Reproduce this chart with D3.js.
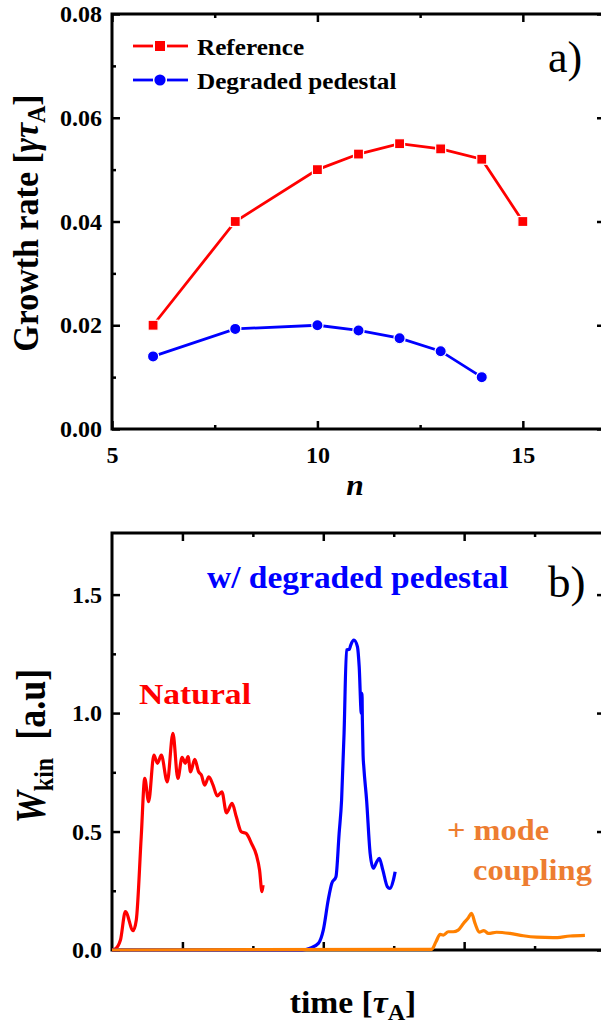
<!DOCTYPE html>
<meta charset="utf-8" />
<script src="https://d3js.org/d3.v7.min.js"></script>
<style>
  body { margin: 0; background: #fff; }
</style>
<svg id="chart" width="601" height="1029"></svg>
<script>
  // panel a) growth rate vs toroidal mode number
  var nRef = [6, 8, 10, 11, 12, 13, 14, 15];
  var rateRef = [0.020, 0.040, 0.050, 0.053, 0.055, 0.054, 0.052, 0.040];
  var nDeg = [6, 8, 10, 11, 12, 13, 14];
  var rateDeg = [0.014, 0.0193, 0.020, 0.019, 0.0175, 0.015, 0.010];
  var nTicks = [5, 10, 15];
  var rateTicks = [0, 0.02, 0.04, 0.06, 0.08];

  // panel b) kinetic energy vs time (time axis has no labels)
  var natT = [0, 4, 12, 19, 30, 34.5, 41.5, 46.5, 52, 59.5, 64.5, 70, 78.5, 86.5, 93.5, 99.5, 104, 108, 111.5,
    117.5, 123, 127, 131.5, 137.5, 143.5, 149.5, 156, 162.5, 170.5, 176.5, 183.5, 190.5, 198, 205, 209.5, 213, 214.5];
  var natW = [0, 0.003, 0.042, 0.162, 0.082, 0.127, 0.478, 0.724, 0.626, 0.823, 0.788, 0.823, 0.71, 0.914, 0.724,
    0.813, 0.788, 0.816, 0.752, 0.805, 0.752, 0.738, 0.696, 0.731, 0.696, 0.65, 0.668, 0.579, 0.619, 0.562, 0.499,
    0.492, 0.45, 0.401, 0.338, 0.246, 0.274];
  var degT = [0, 270, 281, 293, 300, 307, 312, 318, 322.5, 326, 329.5, 333, 337, 339, 343.5, 348.5, 351, 354, 355,
    355.5, 356.5, 357.5, 361.5, 366.5, 371, 376, 379.5, 384.5, 391, 394.5, 399.5, 402];
  var degW = [0, 0, 0.007, 0.028, 0.084, 0.211, 0.281, 0.309, 0.492, 0.633, 0.914, 1.266, 1.269, 1.287, 1.308, 1.28,
    1.195, 0.999, 1.083, 0.97, 0.823, 0.774, 0.633, 0.408, 0.345, 0.373, 0.387, 0.338, 0.267, 0.26, 0.295, 0.33];
  var cplT = [0, 454, 460, 466, 470.5, 477.5, 484.5, 491.5, 499, 506, 510.5, 515.5, 521.5, 528, 534.5, 546, 565, 584,
    603, 626.5, 650.5, 671.5];
  var cplW = [0, 0.003, 0.035, 0.066, 0.063, 0.077, 0.077, 0.084, 0.112, 0.136, 0.155, 0.112, 0.075, 0.082, 0.07,
    0.075, 0.07, 0.06, 0.054, 0.052, 0.059, 0.062];
  var wTicks = [0, 0.5, 1.0, 1.5];

  var FONT = "'Liberation Serif', 'Times New Roman', 'DejaVu Serif', serif";
  var svg = d3.select("#chart");
  svg.append("rect").attr("width", 601).attr("height", 1029).attr("fill", "#fff");

  var L = 112, R = 605;

  // text helper: the original figure is a bit stretched horizontally
  function label(x, y, sx, rot) {
    var g = svg.append("g").attr("transform",
      "translate(" + x + "," + y + ") scale(" + sx + ",1)" + (rot ? " rotate(" + rot + ")" : ""));
    return g.append("text").attr("font-family", FONT).attr("font-weight", "bold");
  }

  function frame(top, bottom) {
    svg.append("rect")
      .attr("x", L).attr("y", top)
      .attr("width", R - L).attr("height", bottom - top)
      .attr("fill", "none").attr("stroke", "#000").attr("stroke-width", 3);
  }

  function ticks(axis, pos, vals, size, lab, fmt) {
    var g = svg.append("g").attr("transform", pos)
      .call(axis.tickValues(vals).tickSize(-size).tickSizeOuter(0).tickPadding(10)
        .tickFormat(lab ? fmt : ""));
    g.select(".domain").remove();
    g.attr("font-family", FONT).attr("font-weight", "bold").attr("font-size", 24);
    g.selectAll(".tick line").attr("stroke", "#000").attr("stroke-width", 2.5);
    g.selectAll(".tick text").attr("fill", "#000");
    return g;
  }

  // ---------- panel a ----------
  var topA = 14, botA = 429;
  var x1 = d3.scaleLinear().domain([5, 17]).range([L, R]);
  var y1 = d3.scaleLinear().domain([0, 0.08]).range([botA, topA]);

  frame(topA, botA);
  var minorN = [7.5, 12.5];
  var minorRate = [0.01, 0.03, 0.05, 0.07];
  var gx = ticks(d3.axisBottom(x1), "translate(0," + botA + ")", nTicks, 8, true, d3.format("d"));
  gx.selectAll(".tick text").attr("dy", "1.0em");
  ticks(d3.axisBottom(x1), "translate(0," + botA + ")", minorN, 4, false);
  ticks(d3.axisTop(x1), "translate(0," + topA + ")", nTicks, 8, false);
  ticks(d3.axisTop(x1), "translate(0," + topA + ")", minorN, 4, false);
  ticks(d3.axisLeft(y1), "translate(" + L + ",0)", rateTicks, 8, true, d3.format(".2f"));
  ticks(d3.axisLeft(y1), "translate(" + L + ",0)", minorRate, 4, false);
  ticks(d3.axisRight(y1), "translate(" + R + ",0)", rateTicks, 8, false);
  ticks(d3.axisRight(y1), "translate(" + R + ",0)", minorRate, 4, false);

  var lineA = d3.line().x(function(d) { return x1(d[0]); }).y(function(d) { return y1(d[1]); });
  var refPts = d3.zip(nRef, rateRef), degPts = d3.zip(nDeg, rateDeg);

  svg.append("path").attr("d", lineA(refPts)).attr("fill", "none")
    .attr("stroke", "#ff0000").attr("stroke-width", 2.8);
  svg.append("path").attr("d", lineA(degPts)).attr("fill", "none")
    .attr("stroke", "#0000ff").attr("stroke-width", 2.8);

  svg.selectAll("sqRef").data(refPts).enter().append("rect")
    .attr("x", function(d) { return x1(d[0]) - 5; })
    .attr("y", function(d) { return y1(d[1]) - 5; })
    .attr("width", 10).attr("height", 10)
    .attr("fill", "#ff0000").attr("stroke", "#fff").attr("stroke-width", 1.2);
  svg.selectAll("dotDeg").data(degPts).enter().append("circle")
    .attr("cx", function(d) { return x1(d[0]); })
    .attr("cy", function(d) { return y1(d[1]); })
    .attr("r", 5.6)
    .attr("fill", "#0000ff").attr("stroke", "#fff").attr("stroke-width", 1.2);

  // legend
  [[46, "#ff0000", "Reference", "rect"], [80, "#0000ff", "Degraded pedestal", "circle"]].forEach(function(l) {
    svg.append("line").attr("x1", 133).attr("x2", 153).attr("y1", l[0]).attr("y2", l[0])
      .attr("stroke", l[1]).attr("stroke-width", 2.8);
    svg.append("line").attr("x1", 167).attr("x2", 188).attr("y1", l[0]).attr("y2", l[0])
      .attr("stroke", l[1]).attr("stroke-width", 2.8);
    if (l[3] == "rect") {
      svg.append("rect").attr("x", 155).attr("y", l[0] - 5).attr("width", 10).attr("height", 10).attr("fill", l[1]);
    } else {
      svg.append("circle").attr("cx", 160).attr("cy", l[0]).attr("r", 5.6).attr("fill", l[1]);
    }
    label(197, l[0] + 8.5, 1.05).attr("font-size", 24).attr("fill", "#000").text(l[2]);
  });

  label(548, 72, 1.0).attr("font-size", 44).attr("font-weight", "normal").text("a)");

  label(355, 495, 1.05).attr("font-size", 30).attr("font-style", "italic").attr("text-anchor", "middle").text("n");

  var ta = label(38, 223, 1.07, -90).attr("font-size", 34).attr("text-anchor", "middle");
  ta.append("tspan").text("Growth rate [");
  ta.append("tspan").attr("font-style", "italic").text("γτ");
  ta.append("tspan").attr("font-size", 24).attr("dy", 7).text("A");
  ta.append("tspan").attr("dy", -7).text("]");

  // ---------- panel b ----------
  var topB = 533, botB = 950;
  var x2 = d3.scaleLinear().domain([0, 700]).range([L, R]);
  var y2 = d3.scaleLinear().domain([0, 1.76]).range([botB, topB]);

  frame(topB, botB);
  var tMajor = [100, 300, 500], tMinor = [200, 400, 600];
  var minorW = [0.25, 0.75, 1.25];
  ticks(d3.axisBottom(x2), "translate(0," + botB + ")", tMajor, 8, false);
  ticks(d3.axisBottom(x2), "translate(0," + botB + ")", tMinor, 4, false);
  ticks(d3.axisTop(x2), "translate(0," + topB + ")", tMajor, 8, false);
  ticks(d3.axisTop(x2), "translate(0," + topB + ")", tMinor, 4, false);
  ticks(d3.axisLeft(y2), "translate(" + L + ",0)", wTicks, 8, true, d3.format(".1f"));
  ticks(d3.axisLeft(y2), "translate(" + L + ",0)", minorW, 4, false);
  ticks(d3.axisRight(y2), "translate(" + R + ",0)", wTicks, 8, false);
  ticks(d3.axisRight(y2), "translate(" + R + ",0)", minorW, 4, false);

  var lineB = d3.line().curve(d3.curveMonotoneX)
    .x(function(d) { return x2(d[0]); }).y(function(d) { return y2(d[1]); });

  [[natT, natW, "#ff0000"], [degT, degW, "#0000ff"], [cplT, cplW, "#ff8000"]].forEach(function(s) {
    svg.append("path").attr("d", lineB(d3.zip(s[0], s[1])))
      .attr("fill", "none").attr("stroke", s[2]).attr("stroke-width", 3.2)
      .attr("stroke-linejoin", "round");
  });

  label(139, 704, 1.12).attr("font-size", 30).attr("fill", "#ff0000").text("Natural");
  label(207, 588, 1.08).attr("font-size", 31).attr("fill", "#0000ff").text("w/ degraded pedestal");
  label(447, 840, 1.08).attr("font-size", 30).attr("fill", "#ed7d31").text("+ mode");
  label(473, 880, 1.08).attr("font-size", 30).attr("fill", "#ed7d31").text("coupling");
  label(548, 597, 1.0).attr("font-size", 45).attr("font-weight", "normal").text("b)");

  var tb = label(353, 1013, 1.05).attr("font-size", 32).attr("text-anchor", "middle");
  tb.append("tspan").text("time [");
  tb.append("tspan").attr("font-style", "italic").text("τ");
  tb.append("tspan").attr("font-size", 23).attr("dy", 7).text("A");
  tb.append("tspan").attr("dy", -7).text("]");

  var wb = label(45, 746, 1.15, -90).attr("font-size", 36).attr("text-anchor", "middle");
  wb.append("tspan").attr("font-style", "italic").text("W");
  wb.append("tspan").attr("font-size", 24).attr("dy", 7).text("kin");
  wb.append("tspan").attr("dy", -7).text("\u00a0 [a.u]");
</script>
